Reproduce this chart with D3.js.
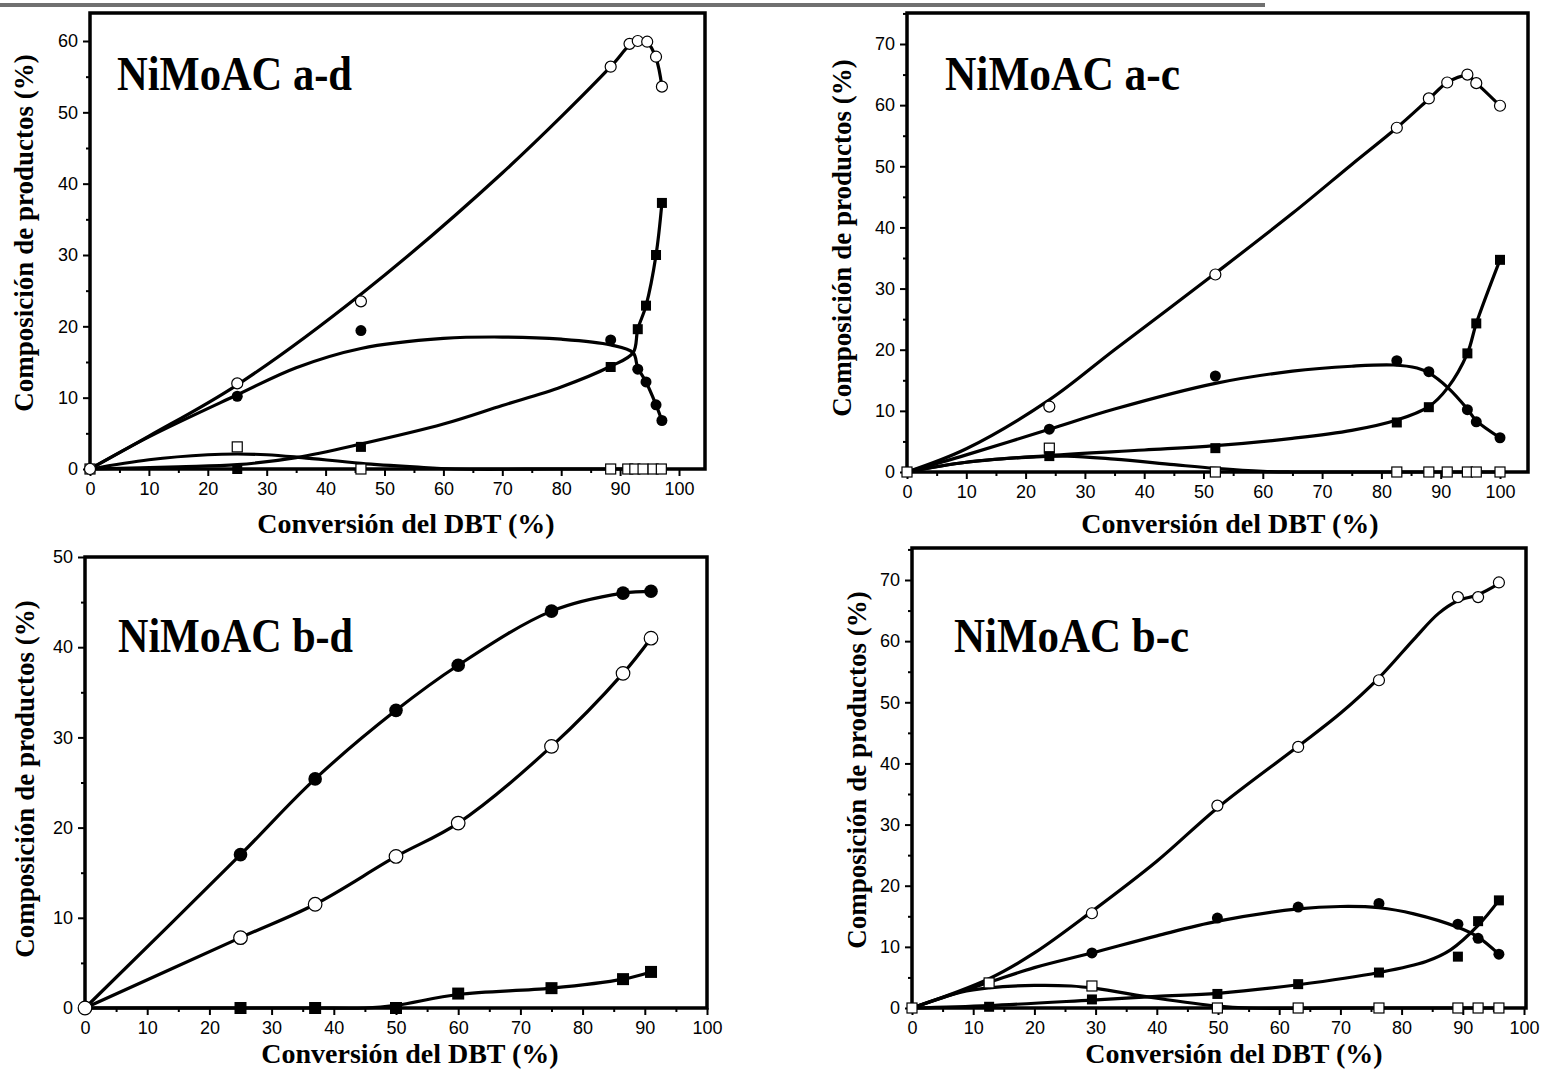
<!DOCTYPE html>
<html><head><meta charset="utf-8">
<script src="https://cdn.jsdelivr.net/npm/d3@7"></script>
<style>body{margin:0;background:#fff}svg{display:block}</style>
</head><body><svg id="c" width="1541" height="1074"></svg>
<script>
// ---------- shared texts / ticks ----------
const xLabel = "Conversión del DBT (%)";
const yLabel = "Composición de productos (%)";
const xTickValues = [0,10,20,30,40,50,60,70,80,90,100];
const xMinorValues = [5,15,25,35,45,55,65,75,85,95];
const yTicksAD = [0,10,20,30,40,50,60];
const yTicksAC = [0,10,20,30,40,50,60,70];
const yTicksBD = [0,10,20,30,40,50];
const yTicksBC = [0,10,20,30,40,50,60,70];

// ---------- NiMoAC a-d ----------
const adTitle = "NiMoAC a-d";
const adOpenCircles   = [[0,0],[25,12],[46,23.5],[88.4,56.4],[91.6,59.6],[93,60],[94.6,59.9],[96.1,57.8],[97.1,53.6]];
const adFilledCircles = [[25,10.2],[46,19.4],[88.4,18.1],[93,14],[94.4,12.2],[96.1,9],[97.1,6.8]];
const adFilledSquares = [[25,0],[46,3.1],[88.4,14.3],[93,19.6],[94.4,22.9],[96.1,30],[97.1,37.3]];
const adOpenSquares   = [[0,0],[25,3.1],[46,0],[88.4,0],[91.3,0],[92.5,0],[93.9,0],[95.6,0],[97,0]];
const adFitOpenCircles   = [[0,0],[10,4.6],[25,11.8],[46,24.5],[70,41.5],[88.4,56.4],[91.6,59.4],[93,60],[94.6,59.8],[96.1,57.6],[97.1,53.6]];
const adFitFilledCircles = [[0,0],[10,4.5],[25,10.4],[35,14.2],[46,16.9],[60,18.3],[70,18.5],[80,18.2],[88.4,17.4],[92.2,16.3],[93,14.2],[94.4,12.2],[96.1,9],[97.1,6.8]];
const adFitFilledSquares = [[0,0],[15,0.3],[25,0.6],[35,1.6],[46,3.5],[60,6.3],[70,8.9],[80,11.5],[88.4,14.4],[92.2,16.3],[93,19.6],[94.4,22.9],[96.1,30],[97.1,37.3]];
const adFitOpenSquares   = [[0,0],[10,1.3],[20,2.0],[25,2.1],[30,2.0],[36,1.6],[46,0.8],[55,0.3],[62,0],[80,0],[97,0]];

// ---------- NiMoAC a-c ----------
const acTitle = "NiMoAC a-c";
const acOpenCircles   = [[24,10.7],[52,32.3],[82.6,56.3],[88,61.1],[91.1,63.7],[94.5,65],[96,63.6],[100,59.9]];
const acFilledCircles = [[24,7],[52,15.7],[82.6,18.2],[88,16.4],[94.5,10.2],[96,8.2],[100,5.6]];
const acFilledSquares = [[24,2.6],[52,3.9],[82.6,8.1],[88,10.6],[94.5,19.4],[96,24.3],[100,34.7]];
const acOpenSquares   = [[0,0],[24,3.9],[52,0],[82.6,0],[88,0],[91.1,0],[94.5,0],[96,0],[100,0]];
const acFitOpenCircles   = [[0,0],[10,3.8],[24,11.8],[35,20],[52,32.5],[65,42.3],[75,50.3],[82.6,56.3],[88,61],[91.1,63.7],[94.5,64.8],[96,63.6],[100,59.9]];
const acFitFilledCircles = [[0,0],[10,2.8],[24,7],[35,10.3],[52,14.5],[65,16.5],[75,17.3],[82,17.5],[86,17],[88,16.2],[91.2,13.8],[94.5,10.3],[96,8.4],[100,5.6]];
const acFitFilledSquares = [[0,0],[10,1.6],[24,2.7],[40,3.6],[52,4.3],[65,5.5],[75,6.8],[82.6,8.5],[88,10.7],[91.2,13.8],[94.5,19.4],[96,24.3],[100,34.7]];
const acFitOpenSquares   = [[0,0],[10,1.6],[20,2.4],[27,2.6],[35,2.1],[45,1.2],[52,0.6],[60,0.1],[65,0],[80,0],[100,0]];

// ---------- NiMoAC b-d ----------
const bdTitle = "NiMoAC b-d";
const bdOpenCircles   = [[0,0],[25,7.8],[37,11.5],[50,16.8],[60,20.5],[75,29],[86.5,37.1],[91,41]];
const bdFilledCircles = [[25,17],[37,25.4],[50,33],[60,38],[75,44],[86.5,46],[91,46.2]];
const bdFilledSquares = [[25,0],[37,0],[50,0],[60,1.6],[75,2.2],[86.5,3.2],[91,4]];
const bdOpenSquares   = [];
const bdFitOpenCircles   = [[0,0],[25,7.8],[37,11.5],[50,16.8],[60,20.5],[75,29],[86.5,37.1],[91,41]];
const bdFitFilledCircles = [[0,0],[25,17],[37,25.4],[50,33],[60,38],[75,44],[86.5,46],[91,46.2]];
const bdFitFilledSquares = [[0,0],[25,0],[37,0],[45,0],[50,0.3],[60,1.5],[75,2.2],[86.5,3.2],[91,4]];
const bdFitOpenSquares   = [];

// ---------- NiMoAC b-c ----------
const bcTitle = "NiMoAC b-c";
const bcOpenCircles   = [[29.4,15.5],[49.9,33.1],[63.1,42.7],[76.3,53.6],[89.2,67.2],[92.5,67.2],[95.9,69.6]];
const bcFilledCircles = [[29.4,9],[49.9,14.7],[63.1,16.5],[76.3,17.1],[89.2,13.7],[92.5,11.4],[95.9,8.8]];
const bcFilledSquares = [[12.6,0.2],[29.4,1.4],[49.9,2.3],[63.1,3.9],[76.3,5.8],[89.2,8.4],[92.5,14.2],[95.9,17.6]];
const bcOpenSquares   = [[0,0],[12.6,4.1],[29.4,3.6],[49.9,0],[63.1,0],[76.3,0],[89.2,0],[92.5,0],[95.9,0]];
const bcFitOpenCircles   = [[0,0],[12.6,4.8],[20,9],[29.4,15.8],[40,24],[50,32.8],[63.1,42.8],[70,48.2],[76.3,54],[82,60.3],[86,64.5],[89.2,66.6],[92.5,67.6],[95.9,69.4]];
const bcFitFilledCircles = [[0,0],[12.6,4.2],[20,6.6],[29.4,9],[40,11.8],[50,14.2],[63.1,16.2],[70,16.6],[76.3,16.4],[82,15.4],[89.2,13.2],[92.5,11.6],[95.9,8.8]];
const bcFitFilledSquares = [[0,0],[12.6,0.4],[29.4,1.3],[40,1.9],[50,2.4],[63.1,3.8],[76.3,5.8],[84,7.6],[88,9.5],[92.5,13.5],[95.9,17.6]];
const bcFitOpenSquares   = [[0,0],[8,2.6],[12.6,3.3],[20,3.7],[26,3.6],[30,3.2],[40,1.6],[50,0.3],[55,0],[75,0],[95.9,0]];

// ---------- layout ----------
const panels = [
  {title: adTitle, yTicks: yTicksAD,
   oc: adOpenCircles, fc: adFilledCircles, fs: adFilledSquares, os: adOpenSquares,
   fits: [adFitOpenSquares, adFitFilledSquares, adFitFilledCircles, adFitOpenCircles],
   xr:[90,679], right:705, yr:[469,41], top:13, r:5.5, s:10,
   titlePos:[117,90], xLabPos:[406,533], yLabPos:[33,233]},
  {title: acTitle, yTicks: yTicksAC,
   oc: acOpenCircles, fc: acFilledCircles, fs: acFilledSquares, os: acOpenSquares,
   fits: [acFitOpenSquares, acFitFilledSquares, acFitFilledCircles, acFitOpenCircles],
   xr:[907,1500], right:1528, yr:[472,44], top:13, r:5.5, s:10,
   titlePos:[945,90], xLabPos:[1230,533], yLabPos:[851,238]},
  {title: bdTitle, yTicks: yTicksBD,
   oc: bdOpenCircles, fc: bdFilledCircles, fs: bdFilledSquares, os: bdOpenSquares,
   fits: [bdFitOpenSquares, bdFitFilledSquares, bdFitFilledCircles, bdFitOpenCircles],
   xr:[85,707], right:707, yr:[1008,557], top:557, r:6.8, s:12,
   titlePos:[118,652], xLabPos:[410,1063], yLabPos:[34,779]},
  {title: bcTitle, yTicks: yTicksBC,
   oc: bcOpenCircles, fc: bcFilledCircles, fs: bcFilledSquares, os: bcOpenSquares,
   fits: [bcFitOpenSquares, bcFitFilledSquares, bcFitFilledCircles, bcFitOpenCircles],
   xr:[912,1524], right:1526, yr:[1008,580], top:548, r:5.5, s:10,
   titlePos:[954,652], xLabPos:[1234,1063], yLabPos:[866,770]}
];

const svg = d3.select("#c");
svg.append("rect").attr("x",0).attr("y",3).attr("width",1265).attr("height",4).attr("fill","#707070");

const serif = "'Liberation Serif','Times New Roman',Times,serif";
const sans = "'Liberation Sans',Arial,Helvetica,sans-serif";

panels.forEach(p => {
  const yMax = p.yTicks[p.yTicks.length-1];
  const x = d3.scaleLinear().domain([0,100]).range(p.xr);
  const y = d3.scaleLinear().domain([0,yMax]).range(p.yr);
  const g = svg.append("g");
  const yb = p.yr[0];
  const yMinor = d3.range(5, y.invert(p.top), 10);

  // axes (ticks outward)
  const ax = g.append("g").attr("transform",`translate(0,${yb})`)
    .call(d3.axisBottom(x).tickValues(xTickValues).tickSize(7).tickSizeOuter(0).tickPadding(6));
  ax.select(".domain").remove();
  ax.selectAll("line").attr("stroke","#000").attr("stroke-width",2);
  ax.selectAll("text").attr("font-family",sans).attr("font-size",18).attr("fill","#000");
  const axm = g.append("g").attr("transform",`translate(0,${yb})`)
    .call(d3.axisBottom(x).tickValues(xMinorValues).tickSize(4).tickSizeOuter(0).tickFormat(""));
  axm.select(".domain").remove();
  axm.selectAll("line").attr("stroke","#000").attr("stroke-width",2);

  const ay = g.append("g").attr("transform",`translate(${p.xr[0]},0)`)
    .call(d3.axisLeft(y).tickValues(p.yTicks).tickSize(7).tickSizeOuter(0).tickPadding(5));
  ay.select(".domain").remove();
  ay.selectAll("line").attr("stroke","#000").attr("stroke-width",2);
  ay.selectAll("text").attr("font-family",sans).attr("font-size",18).attr("fill","#000");
  const aym = g.append("g").attr("transform",`translate(${p.xr[0]},0)`)
    .call(d3.axisLeft(y).tickValues(yMinor).tickSize(4).tickSizeOuter(0).tickFormat(""));
  aym.select(".domain").remove();
  aym.selectAll("line").attr("stroke","#000").attr("stroke-width",2);

  // fitted curves
  const line = d3.line().x(d=>x(d[0])).y(d=>y(d[1])).curve(d3.curveCatmullRom.alpha(0.5));
  p.fits.forEach(f => {
    if (f.length) g.append("path").attr("d", line(f)).attr("fill","none")
      .attr("stroke","#000").attr("stroke-width",3.2).attr("stroke-linejoin","round");
  });

  // frame
  g.append("rect").attr("x",p.xr[0]).attr("y",p.top)
    .attr("width",p.right-p.xr[0]).attr("height",yb-p.top)
    .attr("fill","none").attr("stroke","#000").attr("stroke-width",3.5);

  // markers
  g.selectAll(null).data(p.os).join("rect")
    .attr("x",d=>x(d[0])-p.s/2).attr("y",d=>y(d[1])-p.s/2).attr("width",p.s).attr("height",p.s)
    .attr("fill","#fff").attr("stroke","#000").attr("stroke-width",1.2);
  g.selectAll(null).data(p.fs).join("rect")
    .attr("x",d=>x(d[0])-p.s/2).attr("y",d=>y(d[1])-p.s/2).attr("width",p.s).attr("height",p.s)
    .attr("fill","#000");
  g.selectAll(null).data(p.fc).join("circle")
    .attr("cx",d=>x(d[0])).attr("cy",d=>y(d[1])).attr("r",p.r).attr("fill","#000");
  g.selectAll(null).data(p.oc).join("circle")
    .attr("cx",d=>x(d[0])).attr("cy",d=>y(d[1])).attr("r",p.r)
    .attr("fill","#fff").attr("stroke","#000").attr("stroke-width",1.2);

  // texts
  g.append("text").attr("x",p.titlePos[0]).attr("y",p.titlePos[1])
    .attr("font-family",serif).attr("font-weight","bold").attr("font-size",48)
    .attr("textLength",235).attr("lengthAdjust","spacingAndGlyphs").text(p.title);
  g.append("text").attr("x",p.xLabPos[0]).attr("y",p.xLabPos[1]).attr("text-anchor","middle")
    .attr("font-family",serif).attr("font-weight","bold").attr("font-size",28).text(xLabel);
  g.append("text").attr("transform",`translate(${p.yLabPos[0]},${p.yLabPos[1]}) rotate(-90)`)
    .attr("text-anchor","middle")
    .attr("font-family",serif).attr("font-weight","bold").attr("font-size",27).text(yLabel);
});
</script>
</body></html>
